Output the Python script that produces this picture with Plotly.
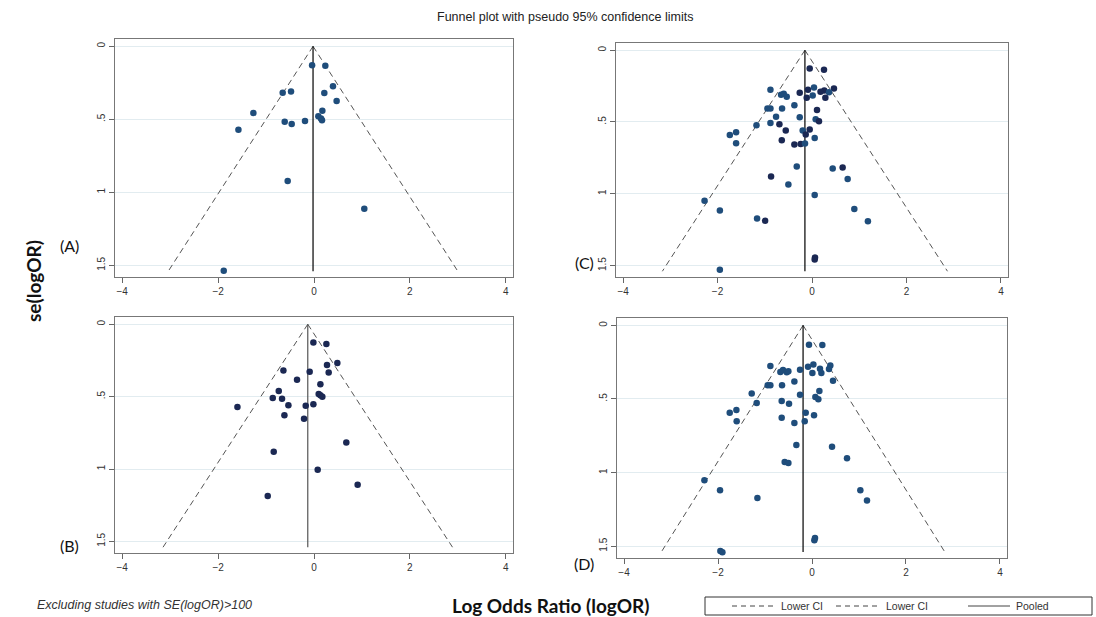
import numpy as np
import plotly.graph_objects as go

W, H = 1096, 617

# ---- study-level estimates: log odds ratio and its standard error ----
logor_a = [-0.04, 0.236, 0.396, -0.653, -0.479, 0.215, 0.472, -1.264, 0.174, -0.611,
           -0.465, -0.188, 0.09, 0.146, 0.167, -1.576, -0.549, 1.049, -1.882]
se_a = [0.129, 0.134, 0.274, 0.318, 0.309, 0.32, 0.375, 0.456, 0.442, 0.516,
        0.532, 0.511, 0.479, 0.495, 0.507, 0.571, 0.923, 1.112, 1.538]
pooled_a = -0.02

logor_b = [-0.013, 0.258, 0.487, 0.271, -0.638, -0.09, 0.306, -0.354, 0.133, -0.735,
           -0.86, -0.667, 0.098, 0.133, 0.174, -1.597, -0.534, -0.173, -0.013, -0.617,
           -0.208, 0.674, -0.84, 0.077, 0.91, -0.965]
se_b = [0.126, 0.136, 0.268, 0.282, 0.319, 0.328, 0.333, 0.383, 0.415, 0.461,
        0.509, 0.514, 0.482, 0.491, 0.5, 0.571, 0.56, 0.563, 0.553, 0.629,
        0.652, 0.817, 0.881, 1.005, 1.108, 1.186]
pooled_b = -0.13

logor_c = [-0.049, 0.254, -0.88, -0.085, 0.042, 0.465, 0.26, 0.18, 0.36, -0.655,
           -0.598, -0.535, -0.26, 0.015, -0.112, 0.283, -0.373, -0.944, -0.88, -0.634,
           0.106, -0.761, -0.26, 0.078, 0.148, -1.176, -0.88, -0.69, -1.607, -1.74,
           -0.556, -0.197, -0.049, -0.133, 0.057, -1.607, -0.64, -0.373, -0.239, -0.148,
           -0.323, -0.867, 0.438, 0.649, 0.755, -0.5, 0.057, -2.275, -1.951, 0.896,
           -1.163, -0.993, 1.184, 0.064, 0.057, -1.951]
se_c = [0.127, 0.136, 0.276, 0.276, 0.26, 0.267, 0.281, 0.29, 0.293, 0.311,
        0.304, 0.325, 0.297, 0.316, 0.332, 0.332, 0.383, 0.406, 0.406, 0.406,
        0.417, 0.463, 0.468, 0.482, 0.495, 0.523, 0.507, 0.516, 0.572, 0.59,
        0.56, 0.56, 0.553, 0.588, 0.611, 0.648, 0.627, 0.657, 0.654, 0.65,
        0.811, 0.88, 0.825, 0.818, 0.898, 0.936, 1.009, 1.048, 1.117, 1.106,
        1.173, 1.189, 1.191, 1.445, 1.458, 1.53]
# studies in panel C drawn in the darker shade
dark_c = [0, 1, 3, 5, 6, 7, 12, 14, 15, 20, 24, 27, 30, 32, 33, 36, 37, 38, 41, 43, 51, 53, 54]
pooled_c = -0.15

logor_d = [-0.064, 0.22, -0.886, -0.085, 0.029, 0.39, 0.17, 0.362, -0.673, -0.617,
           -0.538, -0.503, -0.255, 0.008, 0.199, -0.375, 0.447, -0.943, -0.886, -0.638,
           0.157, -1.283, -0.255, 0.072, 0.135, -1.177, -0.645, -0.489, -1.609, -1.751,
           -0.134, 0.043, -1.603, -0.645, -0.375, -0.155, -0.333, 0.426, 0.745, -0.581,
           -0.503, -2.29, -1.957, -1.162, 1.029, 1.17, 0.064, 0.05, -1.95, -1.907]
se_d = [0.131, 0.133, 0.276, 0.281, 0.265, 0.273, 0.294, 0.296, 0.317, 0.303,
        0.319, 0.312, 0.301, 0.324, 0.324, 0.382, 0.376, 0.407, 0.407, 0.407,
        0.446, 0.462, 0.471, 0.487, 0.502, 0.527, 0.514, 0.532, 0.575, 0.593,
        0.593, 0.611, 0.652, 0.627, 0.663, 0.652, 0.812, 0.824, 0.903, 0.928,
        0.935, 1.052, 1.12, 1.172, 1.12, 1.19, 1.444, 1.46, 1.532, 1.541]
pooled_d = -0.19

SE_MAX = 1.54
Z95 = 1.96

x_ticks = [-4, -2, 0, 2, 4]
y_ticks = [0, 0.5, 1, 1.5]
y_ticktext = ["0", ".5", "1", "1.5"]

BLUE = "#1f4d7b"
NAVY = "#1b2853"
FUNNEL_DASH = "6px,4px"


def px(x):
    return x / W


def py(y):
    return 1 - y / H


# panel boxes in pixels: (left, right, top, bottom)
boxes = {
    "A": (115, 513, 39, 277),
    "C": (616, 1008, 43, 277),
    "B": (115, 513, 317, 553),
    "D": (617, 1007, 318, 558),
}

panels = [
    ("A", logor_a, se_a, pooled_a, [BLUE] * len(se_a), "black"),
    ("C", logor_c, se_c, pooled_c,
     [NAVY if i in dark_c else BLUE for i in range(len(se_c))], "black"),
    ("B", logor_b, se_b, pooled_b, [NAVY] * len(se_b), "#555555"),
    ("D", logor_d, se_d, pooled_d, [BLUE] * len(se_d), "black"),
]

fig = go.Figure()
layout_axes = {}

for k, (name, lor, se, pooled, colors, pooled_col) in enumerate(panels, start=1):
    xa = "x" if k == 1 else f"x{k}"
    ya = "y" if k == 1 else f"y{k}"
    se_line = np.array([0.0, SE_MAX])
    # pseudo 95% limits
    fig.add_trace(go.Scatter(x=pooled - Z95 * se_line, y=se_line, mode="lines",
                             line=dict(color="#555555", width=1, dash=FUNNEL_DASH),
                             xaxis=xa, yaxis=ya, showlegend=False, hoverinfo="skip"))
    fig.add_trace(go.Scatter(x=pooled + Z95 * se_line, y=se_line, mode="lines",
                             line=dict(color="#555555", width=1, dash=FUNNEL_DASH),
                             xaxis=xa, yaxis=ya, showlegend=False, hoverinfo="skip"))
    fig.add_trace(go.Scatter(x=[pooled, pooled], y=se_line, mode="lines",
                             line=dict(color=pooled_col, width=1.2),
                             xaxis=xa, yaxis=ya, showlegend=False, hoverinfo="skip"))
    fig.add_trace(go.Scatter(x=lor, y=se, mode="markers",
                             marker=dict(color=colors, size=6.5),
                             xaxis=xa, yaxis=ya, showlegend=False))

    l, r, t, b = boxes[name]
    xkey = "xaxis" if k == 1 else f"xaxis{k}"
    ykey = "yaxis" if k == 1 else f"yaxis{k}"
    layout_axes[xkey] = dict(
        domain=[px(l), px(r)], anchor=ya, range=[-4.15, 4.15],
        tickvals=x_ticks, ticks="outside", ticklen=5, tickcolor="#666666",
        showgrid=False, zeroline=False, showline=True, linecolor="#777777",
        linewidth=1, mirror=True,
        tickfont=dict(family="Liberation Sans, Arial", size=10, color="#333333"),
    )
    layout_axes[ykey] = dict(
        domain=[py(b), py(t)], anchor=xa, range=[1.58, -0.05],
        tickvals=y_ticks, ticktext=y_ticktext, tickangle=-90,
        ticks="outside", ticklen=5, tickcolor="#666666",
        showgrid=True, gridcolor="#e2ecf0", gridwidth=1, zeroline=False,
        showline=True, linecolor="#777777", linewidth=1, mirror=True,
        tickfont=dict(family="Liberation Sans, Arial", size=10, color="#333333"),
    )

annotations = [
    dict(text="Funnel plot with pseudo 95% confidence limits", x=px(565), y=py(17),
         font=dict(family="Liberation Sans, Arial", size=12.5, color="#222222")),
    dict(text="<b>se(logOR)</b>", x=px(33), y=py(281), textangle=-90,
         font=dict(family="Lato", size=19, color="#111111")),
    dict(text="<b>Log Odds Ratio (logOR)</b>", x=px(550), y=py(605),
         font=dict(family="Lato", size=19, color="#111111")),
    dict(text="<i>Excluding studies with SE(logOR)>100</i>", x=px(35), y=py(605),
         xanchor="left",
         font=dict(family="Liberation Sans, Arial", size=12.5, color="#333333")),
    dict(text="(A)", x=px(69), y=py(245), font=dict(family="Lato", size=16, color="#111111")),
    dict(text="(B)", x=px(69), y=py(545), font=dict(family="Lato", size=16, color="#111111")),
    dict(text="(C)", x=px(584), y=py(263), font=dict(family="Lato", size=16, color="#111111")),
    dict(text="(D)", x=px(584), y=py(563), font=dict(family="Lato", size=16, color="#111111")),
]

# legend box
legend_items = [
    ("Lower CI", 732, 775, "5px,4px"),
    ("Lower CI", 836, 880, "5px,4px"),
    ("Pooled", 968, 1010, "solid"),
]
shapes = [dict(type="rect", xref="paper", yref="paper",
               x0=px(705), x1=px(1092), y0=py(615), y1=py(597),
               line=dict(color="#333333", width=1), fillcolor="white")]
for label, x0, x1, dash in legend_items:
    shapes.append(dict(type="line", xref="paper", yref="paper",
                       x0=px(x0), x1=px(x1), y0=py(606), y1=py(606),
                       line=dict(color="#444444", width=1, dash=dash)))
    annotations.append(dict(text=label, x=px(x1 + 4), y=py(606), xanchor="left",
                            font=dict(family="Liberation Sans, Arial", size=10.5,
                                      color="#333333")))

for a in annotations:
    a.setdefault("xref", "paper")
    a.setdefault("yref", "paper")
    a.setdefault("showarrow", False)
    a.setdefault("xanchor", "center")
    a.setdefault("yanchor", "middle")

fig.update_layout(
    width=W, height=H,
    margin=dict(l=0, r=0, t=0, b=0),
    paper_bgcolor="white", plot_bgcolor="white",
    annotations=annotations, shapes=shapes,
    showlegend=False,
    **layout_axes,
)

fig.write_html("out.html")
